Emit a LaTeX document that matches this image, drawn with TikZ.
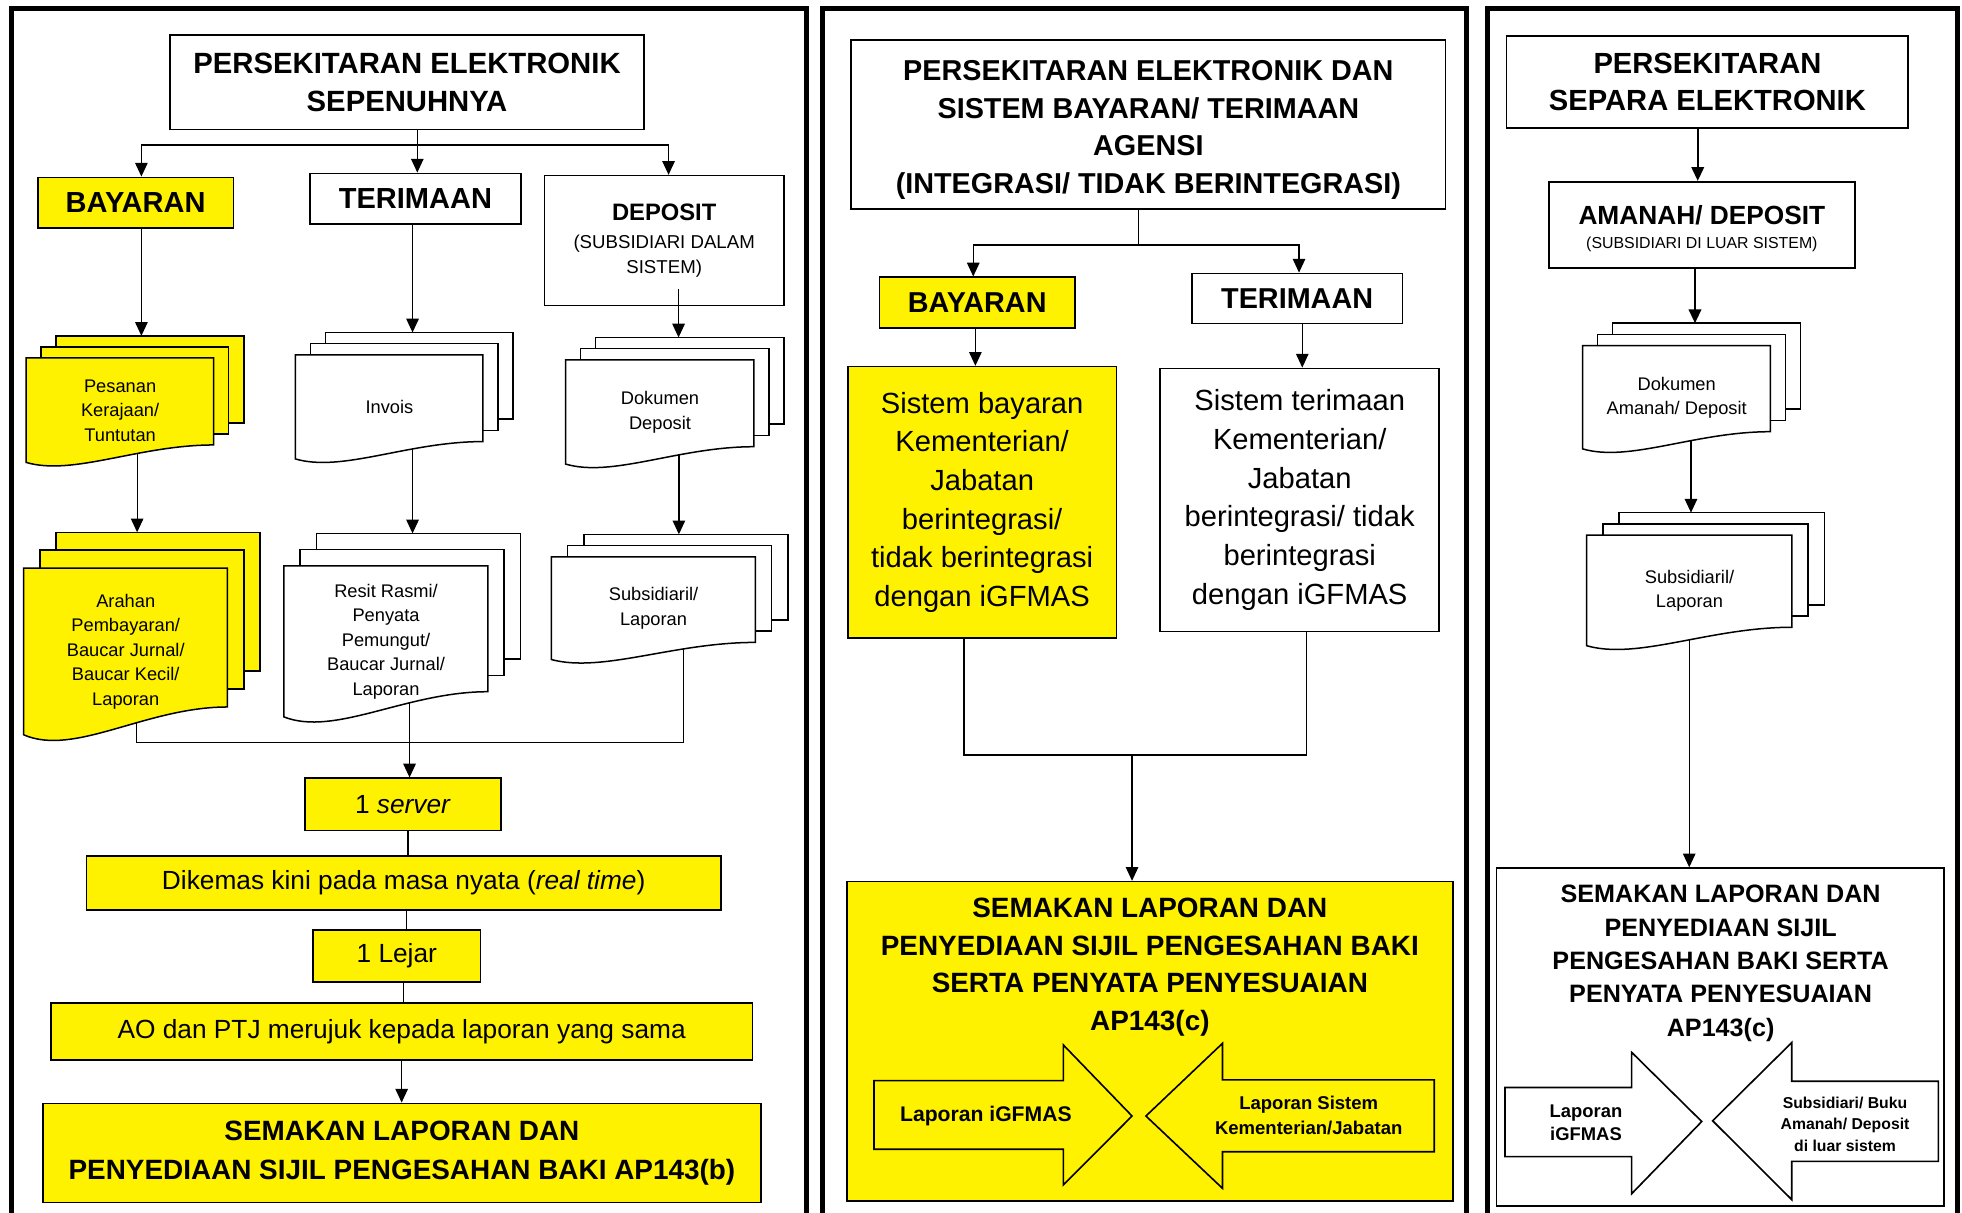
\documentclass[tikz,border=0pt]{standalone}
\usepackage{fontspec}
\setmainfont{Liberation Sans}
\usepackage{tikz}
\usetikzlibrary{arrows.meta,calc}

\pgfdeclarelayer{background}
\pgfsetlayers{background,main}

\tikzset{
	box/.style={draw, line width=1.3pt, align=center, inner sep=0pt},
	ybox/.style={box, fill=yellow},
	wbox/.style={box, fill=white},
	page/.style={line width=1.2pt},
	doctext/.style={align=center, inner sep=0pt, font=\fontsize{14.6}{19.6}\selectfont},
	arr/.style={->, >={Triangle[length=11pt,width=10pt]}, line width=1pt},
	link/.style={line width=1pt},
	frame/.style={line width=4pt},
	blockarr/.style={draw, line width=1.3pt, line join=miter},
}

% #1 name, #2 fill, #3 x, #4 y (front page), #5 width, #6 height, #7 dx, #8 dy, #9 text
\newcommand{\docstack}[9]{
	\foreach \k in {2,1}
		\draw[page, fill=#2] ({#3+\k*#7},{#4-\k*#8}) rectangle ++(#5,#6);
	\draw[page, fill=#2] (#3,#4) -- ++(#5,0) -- ++(0,#6)
		.. controls ({#3+0.6*#5},{#4+#6}) and ({#3+0.25*#5},{#4+1.36*#6}) .. (#3,{#4+1.2*#6}) -- cycle;
	\node[doctext, minimum width=#5pt, minimum height={1.2*#6pt}, anchor=north west] (#1) at (#3,#4) {#9};
	\coordinate (#1-w) at ({#3+0.5*#5},{#4+#6});
	\coordinate (#1-top) at ({#3+0.5*#5+2*#7},{#4-2*#8});
}

\begin{document}
\begin{tikzpicture}[x=1pt,y=-1pt]
	\useasboundingbox (0,0) rectangle (1568,969);
	\begin{pgfonlayer}{background}
		\fill[white] (0,0) rectangle (1568,969);
	\end{pgfonlayer}

	\draw[frame] (9,980) -- (9,6.5) -- (644.5,6.5) -- (644.5,980);
	\draw[frame] (657,980) -- (657,6.5) -- (1172,6.5) -- (1172,980);
	\draw[frame] (1188.5,980) -- (1188.5,6.5) -- (1564,6.5) -- (1564,980);

	% panel 1
	\node[wbox, minimum width=378.6pt, minimum height=75.3pt, font=\fontsize{23.4}{30.7}\selectfont\bfseries] (t1) at (325.3,65.7) {PERSEKITARAN ELEKTRONIK\\SEPENUHNYA};
	\node[ybox, minimum width=156.5pt, minimum height=40.3pt, font=\fontsize{23.2}{28}\selectfont\bfseries] (bay1) at (108.4,161.9) {BAYARAN};
	\node[wbox, minimum width=168.6pt, minimum height=40.5pt, font=\fontsize{23.2}{28}\selectfont\bfseries] (ter1) at (332,158.8) {TERIMAAN};
	\node[wbox, minimum width=191.3pt, minimum height=103.9pt, font=\fontsize{14.9}{20}\selectfont] (dep1) at (530.8,192.3) {{\fontsize{19}{24}\selectfont\bfseries DEPOSIT}\\[2.6pt](SUBSIDIARI DALAM\\SISTEM)};

	\docstack{pes}{yellow}{20.8}{286}{150}{69.6}{12}{8.8}{Pesanan\\Kerajaan/\\Tuntutan}
	\docstack{inv}{white}{236}{283.7}{150}{69.2}{12}{9}{Invois}
	\docstack{dkd}{white}{452}{287.7}{150.5}{69.3}{12}{9}{Dokumen\\Deposit}
	\docstack{arh}{yellow}{18.8}{454}{163}{111}{13}{14.3}{Arahan\\Pembayaran/\\Baucar Jurnal/\\Baucar Kecil/\\Laporan}
	\docstack{rst}{white}{226.8}{452.3}{163}{100.5}{13}{13}{Resit Rasmi/\\Penyata\\Pemungut/\\Baucar Jurnal/\\Laporan}
	\docstack{sb1}{white}{440.6}{445}{163}{68.4}{13}{9}{Subsidiaril/\\Laporan}

	\node[ybox, minimum width=156.9pt, minimum height=41.8pt, font=\fontsize{21}{26}\selectfont] (srv) at (322,642.9) {1 \textit{server}};
	\node[ybox, minimum width=507.2pt, minimum height=43.2pt, font=\fontsize{21}{26}\selectfont] (dik) at (322.6,705.7) {Dikemas kini pada masa nyata (\textit{real time})};
	\node[ybox, minimum width=133.8pt, minimum height=41.3pt, font=\fontsize{21}{26}\selectfont] (lej) at (317.1,763.9) {1 Lejar};
	\node[ybox, minimum width=560.7pt, minimum height=45.7pt, font=\fontsize{21}{26}\selectfont] (ao) at (321,824.2) {AO dan PTJ merujuk kepada laporan yang sama};
	\node[ybox, minimum width=573.7pt, minimum height=79.2pt, font=\fontsize{22.3}{31.2}\selectfont\bfseries] (sem1) at (321.2,921.4) {SEMAKAN LAPORAN DAN\\PENYEDIAAN SIJIL PENGESAHAN BAKI AP143(b)};

	\draw[arr] ([xshift=11.5pt,yshift=14pt]dep1.south) -- ([xshift=11.5pt]dep1.south |- dkd-top);

	% panel 2
	\node[wbox, minimum width=474.9pt, minimum height=135pt, font=\fontsize{23}{30}\selectfont\bfseries] (t2) at (917.75,99.5) {\rule{0pt}{24.5pt}PERSEKITARAN ELEKTRONIK DAN\\SISTEM BAYARAN/ TERIMAAN\\AGENSI\\(INTEGRASI/ TIDAK BERINTEGRASI)};
	\node[ybox, minimum width=156.5pt, minimum height=40.3pt, font=\fontsize{23}{28}\selectfont\bfseries] (bay2) at (781,241.75) {BAYARAN};
	\node[wbox, minimum width=168.5pt, minimum height=39.9pt, font=\fontsize{23}{28}\selectfont\bfseries] (ter2) at (1036.65,238.45) {TERIMAAN};
	\node[ybox, minimum width=214.6pt, minimum height=217.1pt, font=\fontsize{23.3}{30.9}\selectfont] (sbay) at (784.9,401.55) {Sistem bayaran\\Kementerian/\\Jabatan\\berintegrasi/\\tidak berintegrasi\\dengan iGFMAS};
	\node[wbox, minimum width=223pt, minimum height=210.4pt, font=\fontsize{23.3}{30.9}\selectfont] (sterm) at (1038.7,399.6) {Sistem terimaan\\Kementerian/\\Jabatan\\berintegrasi/ tidak\\berintegrasi\\dengan iGFMAS};

	\node[ybox, minimum width=484.1pt, minimum height=255.2pt] (sem2) at (918.95,832.2) {};
	\node[align=center, font=\fontsize{22.3}{30}\selectfont\bfseries] (sem2t) at (918.95,773) {SEMAKAN LAPORAN DAN\\PENYEDIAAN SIJIL PENGESAHAN BAKI\\SERTA PENYATA PENYESUAIAN\\AP143(c)};
	\draw[blockarr, fill=yellow] (698.5,863.6) -- (849.8,863.6) -- (849.8,835.1) -- (904.7,891.9) -- (849.8,947) -- (849.8,918.5) -- (698.5,918.5) -- cycle;
	\node[font=\fontsize{16.9}{20}\selectfont\bfseries] (lap2) at (787.9,892) {Laporan iGFMAS};
	\draw[blockarr, fill=yellow] (915.8,891.9) -- (977,833.8) -- (977,863) -- (1146.2,863) -- (1146.2,920.4) -- (977,920.4) -- (977,949.7) -- cycle;
	\node[align=center, font=\fontsize{14.8}{19.3}\selectfont\bfseries] (kem2) at (1045.9,891.5) {Laporan Sistem\\Kementerian/Jabatan};

	% panel 3
	\node[wbox, minimum width=320.9pt, minimum height=73.4pt, font=\fontsize{23.3}{29.9}\selectfont\bfseries] (t3) at (1364.55,65.7) {PERSEKITARAN\\SEPARA ELEKTRONIK};
	\node[wbox, minimum width=244.8pt, minimum height=69pt, font=\fontsize{12.7}{15}\selectfont] (am3) at (1360.1,179.7) {{\fontsize{21}{25}\selectfont\bfseries \rule{0pt}{21pt}AMANAH/ DEPOSIT}\\[4.5pt](SUBSIDIARI DI LUAR SISTEM)};
	\docstack{dka}{white}{1264.8}{276.3}{150}{68.7}{12}{9}{Dokumen\\Amanah/ Deposit}
	\docstack{sb3}{white}{1268}{427.7}{164}{73.6}{13}{9}{Subsidiaril/\\Laporan}

	\node[wbox, minimum width=357.5pt, minimum height=270.2pt] (sem3) at (1374.85,828.9) {};
	\node[align=center, font=\fontsize{20.1}{26.7}\selectfont\bfseries] (sem3t) at (1375.1,769.8) {SEMAKAN LAPORAN DAN\\PENYEDIAAN SIJIL\\PENGESAHAN BAKI SERTA\\PENYATA PENYESUAIAN\\AP143(c)};
	\draw[blockarr, fill=white] (1202.8,869.1) -- (1304,869.1) -- (1304,841) -- (1360,896.3) -- (1304,954) -- (1304,924.3) -- (1202.8,924.3) -- cycle;
	\node[align=center, font=\fontsize{14.7}{18.7}\selectfont\bfseries] (lap3) at (1267.5,897.5) {Laporan\\iGFMAS};
	\draw[blockarr, fill=white] (1368.7,895.7) -- (1431.9,833.2) -- (1431.9,864.1) -- (1549.1,864.1) -- (1549.1,928.1) -- (1431.9,928.1) -- (1431.9,958.7) -- cycle;
	\node[align=center, font=\fontsize{12.6}{16.85}\selectfont\bfseries] (sub3) at (1474.5,898.5) {Subsidiari/ Buku\\Amanah/ Deposit\\di luar sistem};

	\begin{pgfonlayer}{background}
		\coordinate (j1) at (333.5,115.9);
		\draw[link] (j1 |- t1.south) -- (j1);
		\draw[arr] (j1) -| ([xshift=4.6pt]bay1.north);
		\draw[arr] (j1) -- (j1 |- ter1.north);
		\draw[arr] (j1) -| ([xshift=3.5pt]dep1.north);
		\draw[arr] ([xshift=4.6pt]bay1.south) -- ([xshift=4.6pt]bay1.south |- pes-top);
		\draw[arr] ([xshift=-2.3pt]ter1.south) -- ([xshift=-2.3pt]ter1.south |- inv-top);
		\draw[arr] ([xshift=13.8pt]pes-w) -- ([xshift=13.8pt]pes-w |- arh-top);
		\draw[arr] ([xshift=18.7pt]inv-w) -- ([xshift=18.7pt]inv-w |- rst-top);
		\draw[arr] ([xshift=15.3pt]dkd-w) -- ([xshift=15.3pt]dkd-w |- sb1-top);
		\coordinate (c1) at (108.8,593.6);
		\coordinate (c2) at (546,593.6);
		\draw[link] (c1 |- arh-w) -- (c1) -- (c2) -- (c2 |- sb1-w);
		\draw[arr] ([xshift=19pt]rst-w) -- ([xshift=19pt]rst-w |- srv.north);
		\draw[link] ([xshift=4pt]srv.south) -- ([xshift=4pt]srv.south |- dik.north);
		\draw[link] ([xshift=2pt]dik.south) -- ([xshift=2pt]dik.south |- lej.north);
		\draw[link] ([xshift=5.5pt]lej.south) -- ([xshift=5.5pt]lej.south |- ao.north);
		\draw[arr] (ao.south) -- (ao.south |- sem1.north);

		\coordinate (j2) at (909.7,195.8);
		\draw[link] (j2 |- t2.south) -- (j2);
		\draw[arr] (j2) -| ([xshift=-3.2pt]bay2.north);
		\draw[arr] (j2) -| ([xshift=1.5pt]ter2.north);
		\draw[arr] ([xshift=-1.5pt]bay2.south) -- ([xshift=-1.5pt]bay2.south |- sbay.north);
		\draw[arr] ([xshift=4.1pt]ter2.south) -- ([xshift=4.1pt]ter2.south |- sterm.north);
		\coordinate (c3) at (770.4,603.4);
		\coordinate (c4) at (1044.2,603.4);
		\coordinate (c5) at (904.7,603.4);
		\draw[link] (c3 |- sbay.south) -- (c3) -- (c4) -- (c4 |- sterm.south);
		\draw[arr] (c5) -- (c5 |- sem2.north);

		\draw[arr, line width=1.5pt] ([xshift=-7.75pt]t3.south) -- ([xshift=-7.75pt]t3.south |- am3.north);
		\draw[arr, line width=1.5pt] ([xshift=-5.5pt]am3.south) -- ([xshift=-5.5pt]am3.south |- dka-top);
		\draw[arr] ([xshift=11.6pt]dka-w) -- ([xshift=11.6pt]dka-w |- sb3-top);
		\draw[arr] (sb3-w) -- (sb3-w |- sem3.north);
	\end{pgfonlayer}
\end{tikzpicture}
\end{document}
